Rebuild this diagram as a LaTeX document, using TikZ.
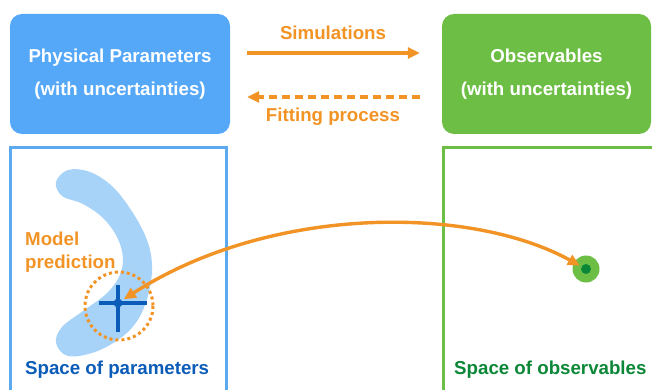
\documentclass[tikz,border=0pt]{standalone}
\usepackage{fontspec}
\setmainfont{Liberation Sans}
\usetikzlibrary{arrows.meta,calc}
\definecolor{boxblue}{HTML}{55A8F8}
\definecolor{boxgreen}{HTML}{6DBE45}
\definecolor{orng}{HTML}{F29325}
\definecolor{banana}{HTML}{A8D3F9}
\definecolor{dblue}{HTML}{0B5CB8}
\definecolor{dgreen}{HTML}{0B8737}
\definecolor{frameblue}{HTML}{5BA9EF}
\tikzset{
  topbox/.style={rounded corners=12pt, minimum width=220pt, minimum height=120pt,
    text=white, align=center, font=\fontsize{18.7}{33}\selectfont\bfseries, inner sep=0pt},
  orarrow/.style={draw=orng, line width=3.4pt, -{Triangle[length=12pt,width=11pt]}},
  lbl/.style={font=\fontsize{18.7}{23}\selectfont\bfseries, inner sep=0pt},
  frame/.style={line width=3pt},
}
\begin{document}
\begin{tikzpicture}[x=1pt,y=-1pt]
\useasboundingbox (0,0) rectangle (652,390);
% top boxes
\node[topbox, fill=boxblue] (pp) at (120,74) {Physical Parameters\\(with uncertainties)};
\node[topbox, fill=boxgreen, minimum width=209pt] (obs) at (546.5,74) {Observables\\(with uncertainties)};
% arrows between
\draw[orarrow] ([xshift=17pt,yshift=21pt]pp.east) -- ([xshift=-22pt,yshift=21pt]obs.west);
\draw[orarrow, dash pattern=on 8pt off 5pt] ([xshift=-22pt,yshift=-23pt]obs.west) -- ([xshift=17pt,yshift=-23pt]pp.east);
\node[lbl, text=orng] (sim) at (333,33) {Simulations};
\node[lbl, text=orng] (fit) at (333,117) {Fitting process};
% lower frames
\draw[frame, draw=frameblue] (10,148) rectangle (226,400);
\draw[frame, draw=boxgreen] (443,148) rectangle (665,400);
% banana
\fill[banana] plot[smooth cycle, tension=0.6] coordinates {
  (56,182) (68,170) (90,172) (113,187) (133,213) (147,240) (152,265) (149,292)
  (139,318) (122,337) (95,352) (68,356) (56,343) (62,327) (83,311) (106,294)
  (119,277) (123,258) (117,237) (103,218) (83,204) (62,196)};
% crosshair and model prediction
\coordinate (pc) at (118,303);
\draw[orng, line width=3pt, dash pattern=on 3pt off 3pt] (119,306) circle (34);
\draw[dblue, line width=3.5pt] ([xshift=-19pt]pc) -- ([xshift=29pt]pc);
\draw[dblue, line width=3.5pt] ([yshift=18pt]pc) -- ([yshift=-29pt]pc);
\fill[dblue] (pc) circle (4.5);
% observation
\node[circle, fill=boxgreen, minimum size=27pt, inner sep=0pt] (od) at (586,269) {};
\fill[dgreen] (od.center) circle (5);
% curved arrow
\draw[draw=orng, line width=3.4pt, {Triangle[length=12pt,width=11pt]}-{Triangle[length=12pt,width=11pt]}, shorten <=7pt, shorten >=7pt]
  (pc) .. controls (270,205) and (470,205) .. (od.center);
% labels
\node[lbl, text=orng, align=left, anchor=west] (mp) at (25,252) {Model\\prediction};
\node[lbl, text=dblue, anchor=west] (sp) at (25,370) {Space of parameters};
\node[lbl, text=dgreen, anchor=west] (so) at (454,370) {Space of observables};
\end{tikzpicture}
\end{document}
